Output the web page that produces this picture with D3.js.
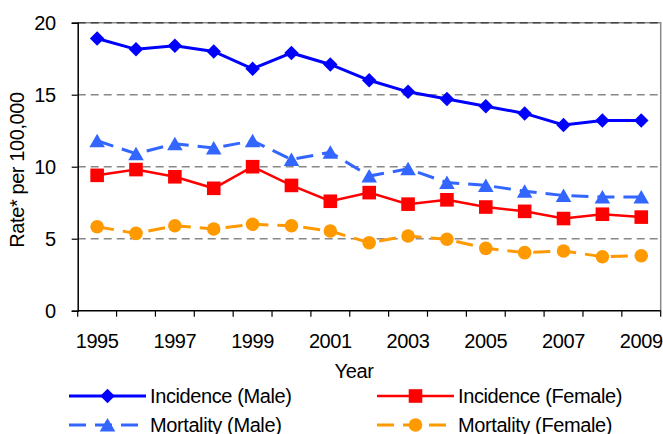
<!DOCTYPE html>
<html>
<head>
<meta charset="utf-8">
<script src="https://cdn.jsdelivr.net/npm/d3@7"></script>
<style>
  body { margin: 0; background: #fff; }
  svg text { font-family: "Liberation Sans", Arial, sans-serif; fill: #000; letter-spacing: -0.4px; }
</style>
</head>
<body>
<div id="chart"></div>
<script>
// data
const years = [1995, 1996, 1997, 1998, 1999, 2000, 2001, 2002, 2003, 2004, 2005, 2006, 2007, 2008, 2009];
const yearLabels = [1995, 1997, 1999, 2001, 2003, 2005, 2007, 2009];
const yTicks = [0, 5, 10, 15, 20];

const incidenceMale   = [18.9, 18.15, 18.4, 18.0, 16.8, 17.9, 17.1, 16.0, 15.2, 14.7, 14.2, 13.7, 12.9, 13.2, 13.2];
const incidenceFemale = [9.4, 9.8, 9.3, 8.5, 10.0, 8.7, 7.6, 8.2, 7.4, 7.7, 7.2, 6.9, 6.4, 6.7, 6.5];
const mortalityMale   = [11.8, 10.9, 11.6, 11.3, 11.8, 10.5, 11.0, 9.35, 9.85, 8.9, 8.7, 8.3, 8.0, 7.9, 7.9];
const mortalityFemale = [5.83, 5.37, 5.9, 5.67, 6.0, 5.9, 5.53, 4.72, 5.19, 4.96, 4.33, 4.03, 4.15, 3.75, 3.82];

const seriesNames = ["Incidence (Male)", "Incidence (Female)", "Mortality (Male)", "Mortality (Female)"];

const width = 663, height = 434;
const plot = { left: 77.7, right: 660.7, top: 22.7, bottom: 310.7 };

// style per series
const styles = [
  { color: "#0000ff", width: 3,   dash: null,   symbol: d3.symbolSquare,   size: 105, rotate: 45, shift: 0 },
  { color: "#ff0000", width: 2.5, dash: null,   symbol: d3.symbolSquare,   size: 185, rotate: 0,  shift: 0 },
  { color: "#3366ff", width: 3,   dash: "17,9", symbol: d3.symbolTriangle, size: 105, rotate: 0,  shift: 2 },
  { color: "#ff9900", width: 3,   dash: "17,9", symbol: d3.symbolCircle,   size: 145, rotate: 0,  shift: 0 }
];

const series = [incidenceMale, incidenceFemale, mortalityMale, mortalityFemale].map((vals, i) => ({
  name: seriesNames[i],
  style: styles[i],
  values: years.map((yr, j) => ({ year: yr, value: vals[j] }))
}));

const svg = d3.select("#chart")
  .append("svg")
  .attr("width", width)
  .attr("height", height);

const x = d3.scaleBand()
  .domain(years)
  .range([plot.left, plot.right])
  .padding(0);

const y = d3.scaleLinear()
  .domain([0, 20])
  .range([plot.bottom, plot.top]);

// plot area border (top + right)
svg.append("path")
  .attr("d", `M${plot.left},${plot.top}H${plot.right}V${plot.bottom}`)
  .attr("fill", "none")
  .attr("stroke", "#8a8a8a")
  .attr("stroke-width", 1.5);

// gridlines
svg.append("g")
  .selectAll("line")
  .data(yTicks.filter(d => d > 0))
  .enter()
  .append("line")
  .attr("x1", plot.left)
  .attr("x2", plot.right)
  .attr("y1", d => y(d))
  .attr("y2", d => y(d))
  .attr("stroke", d => d === 20 ? "#444" : "#888")
  .attr("stroke-width", 1.5)
  .attr("stroke-dasharray", "8,5");

// y axis
const yAxis = svg.append("g")
  .attr("transform", `translate(${plot.left},0)`)
  .call(d3.axisLeft(y).tickValues(yTicks).tickSize(6).tickPadding(16));
yAxis.select(".domain").attr("stroke", "#000").attr("stroke-width", 1.5);
yAxis.selectAll(".tick line").attr("stroke", "#000").attr("stroke-width", 1.2);
yAxis.selectAll("text").attr("font-size", 20).attr("dy", "0.36em").attr("font-family", null);

// x axis: tick marks at category boundaries, labels on every other year
const xAxis = svg.append("g")
  .attr("transform", `translate(0,${plot.bottom})`);
xAxis.append("line")
  .attr("x1", plot.left).attr("x2", plot.right)
  .attr("stroke", "#000").attr("stroke-width", 1.5);
xAxis.selectAll("line.tick")
  .data(years.concat(["end"]))
  .enter()
  .append("line")
  .attr("class", "tick")
  .attr("x1", d => d === "end" ? plot.right : x(d))
  .attr("x2", d => d === "end" ? plot.right : x(d))
  .attr("y1", 0).attr("y2", 6)
  .attr("stroke", "#000").attr("stroke-width", 1.2);
xAxis.selectAll("text")
  .data(yearLabels)
  .enter()
  .append("text")
  .attr("x", d => x(d) + x.bandwidth() / 2)
  .attr("y", 37.5)
  .attr("text-anchor", "middle")
  .attr("font-size", 20)
  .text(d => d);

// axis titles
svg.append("text")
  .attr("x", 354)
  .attr("y", 378)
  .attr("text-anchor", "middle")
  .attr("font-size", 20)
  .text("Year");

svg.append("text")
  .attr("transform", "translate(24,170) rotate(-90)")
  .attr("text-anchor", "middle")
  .attr("font-size", 20)
  .text("Rate* per 100,000");

// lines + markers
const line = d3.line()
  .x(d => x(d.year) + x.bandwidth() / 2)
  .y(d => y(d.value));

const symbolPath = s => d3.symbol().type(s.symbol).size(s.size)();

series.forEach(s => {
  const g = svg.append("g");
  g.append("path")
    .datum(s.values)
    .attr("fill", "none")
    .attr("stroke", s.style.color)
    .attr("stroke-width", s.style.width)
    .attr("stroke-dasharray", s.style.dash)
    .attr("d", line);
  g.selectAll("path.marker")
    .data(s.values)
    .enter()
    .append("path")
    .attr("class", "marker")
    .attr("d", symbolPath(s.style))
    .attr("fill", s.style.color)
    .attr("transform", d => `translate(${x(d.year) + x.bandwidth() / 2},${y(d.value) + s.style.shift}) rotate(${s.style.rotate})`);
});

// legend
const legendPos = [
  { x1: 69,  x2: 146, cy: 396 },
  { x1: 377, x2: 454, cy: 396 },
  { x1: 69,  x2: 146, cy: 425 },
  { x1: 377, x2: 454, cy: 425 }
];

const legend = svg.append("g")
  .selectAll("g")
  .data(series)
  .enter()
  .append("g");

legend.append("line")
  .attr("x1", (d, i) => legendPos[i].x1)
  .attr("x2", (d, i) => legendPos[i].x2)
  .attr("y1", (d, i) => legendPos[i].cy)
  .attr("y2", (d, i) => legendPos[i].cy)
  .attr("stroke", d => d.style.color)
  .attr("stroke-width", d => d.style.width)
  .attr("stroke-dasharray", d => d.style.dash);

legend.append("path")
  .attr("d", d => symbolPath(d.style))
  .attr("fill", d => d.style.color)
  .attr("transform", (d, i) => `translate(${(legendPos[i].x1 + legendPos[i].x2) / 2},${legendPos[i].cy + d.style.shift}) rotate(${d.style.rotate})`);

legend.append("text")
  .attr("x", (d, i) => legendPos[i].x2 + 4)
  .attr("y", (d, i) => legendPos[i].cy + 7)
  .attr("font-size", 20)
  .text(d => d.name);
</script>
</body>
</html>
